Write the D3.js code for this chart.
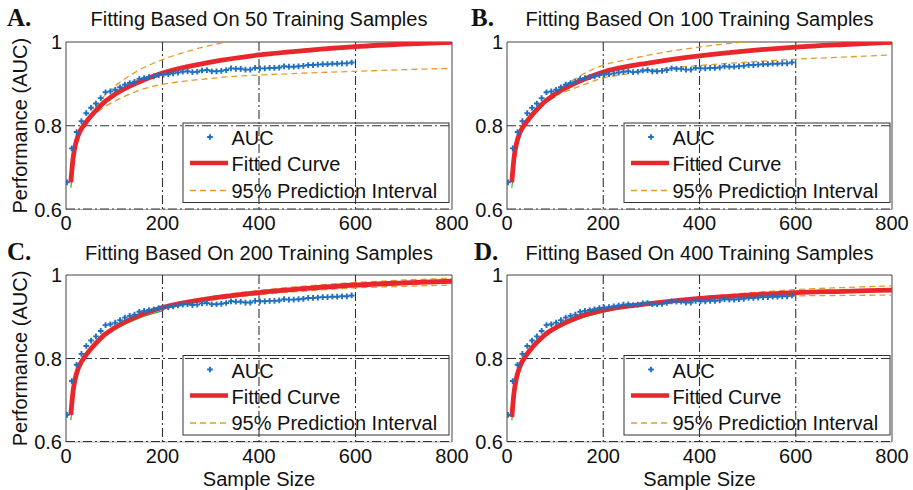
<!DOCTYPE html>
<html lang="en">
<head>
<meta charset="UTF-8">
<title>Learning curve fitting</title>
<script src="https://d3js.org/d3.v7.min.js"></script>
<style>
    body, html { margin: 0; padding: 0; background: #fff; overflow: hidden; }
    text { font-family: "Liberation Sans", Arial, sans-serif; fill: #111; }
    .letter { font-family: "Liberation Serif", "Times New Roman", serif; font-weight: bold; }
</style>
</head>
<body>
<div id="chart"></div>
<script>
// ---- data ----
var panelLetters = ["A.", "B.", "C.", "D."];
var panelTitles = [
    "Fitting Based On 50 Training Samples",
    "Fitting Based On 100 Training Samples",
    "Fitting Based On 200 Training Samples",
    "Fitting Based On 400 Training Samples"
];
var xTicks = [0, 200, 400, 600, 800];
var yTicks = [0.6, 0.8, 1];
var xGrid = [200, 400, 600];
var yGrid = [0.6, 0.8];
var legendLabels = ["AUC", "Fitted Curve", "95% Prediction Interval"];

// observed AUC (same in every panel)
var sampleSizes = [2, 12, 22, 32, 42, 52, 62, 72, 82, 92, 102, 112, 122, 132, 142, 152, 162, 172, 182, 192,
    202, 212, 222, 232, 242, 252, 262, 272, 282, 292, 302, 312, 322, 332, 342, 352, 362, 372, 382, 392,
    402, 412, 422, 432, 442, 452, 462, 472, 482, 492, 502, 512, 522, 532, 542, 552, 562, 572, 582, 592];
var aucValues = [0.665, 0.746, 0.785, 0.811, 0.830, 0.843, 0.853, 0.866, 0.880, 0.882,
    0.886, 0.892, 0.898, 0.902, 0.905, 0.912, 0.914, 0.916, 0.918, 0.921,
    0.922, 0.923, 0.925, 0.927, 0.929, 0.930, 0.928, 0.929, 0.932, 0.933,
    0.930, 0.930, 0.931, 0.933, 0.937, 0.936, 0.936, 0.934, 0.934, 0.938,
    0.937, 0.937, 0.938, 0.938, 0.939, 0.942, 0.941, 0.941, 0.942, 0.943,
    0.945, 0.945, 0.946, 0.947, 0.947, 0.948, 0.948, 0.949, 0.949, 0.951];

// fitted curves
var fitX = [10, 15, 20, 25, 30, 40, 50, 60, 80, 100, 150, 200, 300, 400, 500, 600, 700, 800];
var fitA = [0.665, 0.725, 0.757, 0.776, 0.789, 0.806, 0.821, 0.834, 0.857, 0.874, 0.904, 0.926, 0.952, 0.969, 0.980, 0.989, 0.995, 0.999];
var fitB = [0.665, 0.727, 0.759, 0.778, 0.791, 0.808, 0.823, 0.836, 0.859, 0.876, 0.906, 0.928, 0.951, 0.967, 0.979, 0.988, 0.994, 0.999];
var fitC = [0.665, 0.725, 0.756, 0.775, 0.788, 0.806, 0.821, 0.834, 0.857, 0.873, 0.902, 0.922, 0.944, 0.958, 0.968, 0.976, 0.981, 0.985];
var fitD = [0.660, 0.722, 0.755, 0.775, 0.789, 0.808, 0.823, 0.836, 0.858, 0.873, 0.900, 0.916, 0.932, 0.944, 0.952, 0.958, 0.961, 0.964];

// curve through the training points (green)
var greenX = [10, 20, 30, 40, 50, 60, 80, 100, 150, 200, 300, 400];
var greenA = [0.652, 0.745, 0.785, 0.805, 0.820];
var greenB = [0.652, 0.745, 0.785, 0.805, 0.820, 0.833, 0.855, 0.869];
var greenC = [0.652, 0.745, 0.785, 0.805, 0.820, 0.833, 0.855, 0.869, 0.896, 0.914];
var greenD = [0.652, 0.745, 0.785, 0.805, 0.820, 0.833, 0.855, 0.869, 0.895, 0.911, 0.930, 0.941];

// 95% prediction intervals
var piXA = [50, 60, 80, 100, 150, 200, 250, 300, 350, 400, 500, 600, 700, 800];
var upperA = [0.823, 0.842, 0.872, 0.893, 0.932, 0.958, 0.977, 0.992, 1.003, 1.012, 1.025, 1.034, 1.040, 1.045];
var lowerA = [0.819, 0.828, 0.845, 0.858, 0.884, 0.899, 0.907, 0.913, 0.918, 0.921, 0.926, 0.930, 0.934, 0.937];
var piXB = [100, 150, 200, 250, 300, 400, 500, 600, 700, 800];
var upperB = [0.880, 0.918, 0.945, 0.958, 0.970, 0.988, 1.001, 1.012, 1.020, 1.027];
var lowerB = [0.872, 0.894, 0.914, 0.924, 0.933, 0.944, 0.952, 0.959, 0.964, 0.969];
var piXC = [200, 300, 400, 500, 600, 700, 800];
var upperC = [0.924, 0.948, 0.963, 0.974, 0.982, 0.988, 0.992];
var lowerC = [0.921, 0.940, 0.953, 0.962, 0.969, 0.973, 0.976];
var piXD = [400, 500, 600, 700, 800];
var upperD = [0.946, 0.957, 0.965, 0.970, 0.974];
var lowerD = [0.941, 0.946, 0.950, 0.951, 0.952];

var fits = [fitA, fitB, fitC, fitD];
var greens = [greenA, greenB, greenC, greenD];
var piXs = [piXA, piXB, piXC, piXD];
var uppers = [upperA, upperB, upperC, upperD];
var lowers = [lowerA, lowerB, lowerC, lowerD];

// ---- layout ----
var W = 913, H = 490;
var frames = [
    { x: 66, y: 42, w: 386, h: 167.5, letterX: 7, titleY: 26, ylab: true, xlab: false },
    { x: 507, y: 42, w: 385, h: 167.5, letterX: 471, titleY: 26, ylab: false, xlab: false },
    { x: 66, y: 275, w: 386, h: 167, letterX: 7, titleY: 260, ylab: true, xlab: true },
    { x: 507, y: 275, w: 385, h: 167, letterX: 474, titleY: 260, ylab: false, xlab: true }
];

var colors = { auc: "#1f70c1", fit: "#e8262b", pi: "#e79a2c", green: "#3aa63a", grid: "#333", frame: "#444" };

var svg = d3.select("#chart").append("svg")
    .attr("width", W).attr("height", H);
svg.append("rect").attr("width", W).attr("height", H).attr("fill", "#fff");

var cross = d3.symbol().type(d3.symbolCross).size(18);

frames.forEach(function (f, i) {
    var x = d3.scaleLinear().domain([0, 800]).range([0, f.w]);
    var y = d3.scaleLinear().domain([0.6, 1]).range([f.h, 0]);

    var g = svg.append("g").attr("transform", "translate(" + f.x + "," + f.y + ")");

    // clip
    svg.append("clipPath").attr("id", "clip" + i)
        .append("rect").attr("x", f.x).attr("y", f.y).attr("width", f.w).attr("height", f.h);
    var inner = svg.append("g").attr("clip-path", "url(#clip" + i + ")")
        .append("g").attr("transform", "translate(" + f.x + "," + f.y + ")");

    // grid (dash-dot)
    inner.selectAll(".vg").data(xGrid).enter().append("line")
        .attr("x1", d => x(d)).attr("x2", d => x(d))
        .attr("y1", 0).attr("y2", f.h)
        .attr("stroke", colors.grid).attr("stroke-width", 1.1)
        .attr("stroke-dasharray", "9,3,2,3");
    g.append("line").attr("x1", 0).attr("x2", f.w).attr("y1", f.h).attr("y2", f.h)
        .attr("stroke", "#999").attr("stroke-width", 0.8);
    inner.selectAll(".hg").data(yGrid).enter().append("line")
        .attr("x1", 0).attr("x2", f.w)
        .attr("y1", d => y(d)).attr("y2", d => y(d))
        .attr("stroke", colors.grid).attr("stroke-width", d => d === 0.6 ? 2 : 1.1)
        .attr("stroke-dasharray", "9,3,2,3");

    // prediction interval
    var piPts = piXs[i];
    var line = d3.line().curve(d3.curveMonotoneX);
    [uppers[i], lowers[i]].forEach(function (vals) {
        inner.append("path")
            .attr("d", line(piPts.map((px, k) => [x(px), y(vals[k])])))
            .attr("fill", "none").attr("stroke", colors.pi)
            .attr("stroke-width", 1.3).attr("stroke-dasharray", "6,4");
    });

    // training curve
    var gv = greens[i];
    inner.append("path")
        .attr("d", line(gv.map((v, k) => [x(greenX[k]), y(v)])))
        .attr("fill", "none").attr("stroke", colors.green).attr("stroke-width", 1.2);

    // fitted curve
    inner.append("path")
        .attr("d", line(fits[i].map((v, k) => [x(fitX[k]), y(v)])))
        .attr("fill", "none").attr("stroke", colors.fit).attr("stroke-width", 4.8);

    // AUC points
    inner.selectAll(".pt").data(aucValues).enter().append("path")
        .attr("d", cross)
        .attr("transform", (d, k) => "translate(" + x(sampleSizes[k]) + "," + y(d) + ")")
        .attr("fill", colors.auc);

    // frame
    g.append("line").attr("x1", 0).attr("x2", f.w).attr("y1", 0).attr("y2", 0).attr("stroke", colors.frame);
    g.append("line").attr("x1", 0).attr("x2", 0).attr("y1", 0).attr("y2", f.h).attr("stroke", colors.frame);
    g.append("line").attr("x1", f.w).attr("x2", f.w).attr("y1", 0).attr("y2", f.h).attr("stroke", colors.frame);

    // tick labels
    g.selectAll(".yt").data(yTicks).enter().append("text")
        .attr("x", -4).attr("y", d => y(d)).attr("dy", "0.36em")
        .attr("text-anchor", "end").attr("font-size", 20)
        .text(d => d3.format("")(d));
    g.selectAll(".xt").data(xTicks).enter().append("text")
        .attr("x", d => x(d)).attr("y", f.h + 20.5)
        .attr("text-anchor", "middle").attr("font-size", 20)
        .text(d => d);

    // legend
    var lg = g.append("g").attr("transform", "translate(" + (117) + "," + (f.h - 86.5) + ")");
    lg.append("rect").attr("width", 266).attr("height", 79.5)
        .attr("fill", "#fff").attr("stroke", "#333").attr("stroke-width", 1);
    lg.append("path").attr("d", cross).attr("transform", "translate(27,14)").attr("fill", colors.auc);
    lg.append("line").attr("x1", 7).attr("x2", 45).attr("y1", 40).attr("y2", 40)
        .attr("stroke", colors.fit).attr("stroke-width", 4.5);
    lg.append("line").attr("x1", 7).attr("x2", 45).attr("y1", 67.5).attr("y2", 67.5)
        .attr("stroke", colors.pi).attr("stroke-width", 1.3).attr("stroke-dasharray", "6,4");
    lg.selectAll(".lt").data(legendLabels).enter().append("text")
        .attr("x", 48.5).attr("y", (d, k) => 22 + k * 26.3)
        .attr("font-size", 20).text(d => d);

    // titles
    svg.append("text").attr("class", "letter")
        .attr("x", f.letterX).attr("y", f.titleY)
        .attr("font-size", 25).text(panelLetters[i]);
    svg.append("text")
        .attr("x", f.x + f.w / 2).attr("y", f.titleY)
        .attr("text-anchor", "middle").attr("font-size", 20)
        .text(panelTitles[i]);

    if (f.ylab) {
        svg.append("text")
            .attr("transform", "translate(27," + (f.y + f.h / 2) + ") rotate(-90)")
            .attr("text-anchor", "middle").attr("font-size", 20)
            .text("Performance (AUC)");
    }
    if (f.xlab) {
        svg.append("text")
            .attr("x", f.x + f.w / 2).attr("y", 485.5)
            .attr("text-anchor", "middle").attr("font-size", 20)
            .text("Sample Size");
    }
});
</script>
</body>
</html>
